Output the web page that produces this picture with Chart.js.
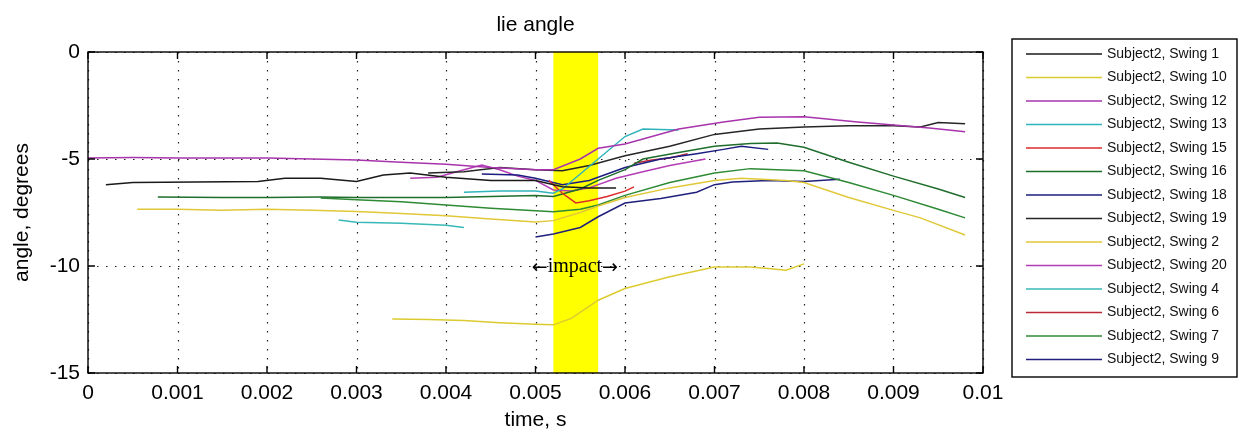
<!DOCTYPE html>
<html lang="en">
<head>
    <meta charset="UTF-8">
    <title>lie angle</title>
    <script src="https://cdn.jsdelivr.net/npm/chart.js"></script>
    <style>
        html, body { margin: 0; padding: 0; background: #fff; }
        #wrap { position: relative; width: 1239px; height: 434px; }
    </style>
</head>
<body>
<div id="wrap"><canvas id="chart"></canvas></div>
<script>
// [time (s), angle (degrees)]
const swing1  = [[0.0002,-6.2],[0.0005,-6.1],[0.0019,-6.05],[0.0022,-5.9],[0.0026,-5.9],[0.003,-6.05],[0.0033,-5.75],[0.0036,-5.65],[0.004,-5.85],[0.0045,-6.0],[0.005,-6.0],[0.0053,-6.3],[0.0056,-6.35],[0.0059,-6.35]];
const swing10 = [[0.0034,-12.48],[0.0038,-12.5],[0.0042,-12.55],[0.0046,-12.65],[0.005,-12.72],[0.0052,-12.75],[0.0054,-12.45],[0.0057,-11.6],[0.006,-11.05],[0.0065,-10.5],[0.007,-10.05],[0.0074,-10.05],[0.0076,-10.12],[0.0078,-10.2],[0.008,-9.9]];
const swing12 = [[0,-4.95],[0.0005,-4.93],[0.001,-4.95],[0.002,-4.95],[0.0025,-5.0],[0.003,-5.05],[0.0035,-5.15],[0.004,-5.25],[0.0045,-5.4],[0.005,-5.5],[0.0052,-5.5],[0.0055,-5.0],[0.0057,-4.5],[0.006,-4.3],[0.0066,-3.6],[0.0071,-3.27],[0.0075,-3.05],[0.008,-3.03],[0.0086,-3.27],[0.009,-3.41],[0.0094,-3.55],[0.0098,-3.73]];
const swing13 = [[0.0042,-6.55],[0.0046,-6.5],[0.005,-6.5],[0.0052,-6.6],[0.0053,-6.4],[0.0055,-5.7],[0.0057,-5.0],[0.006,-3.95],[0.0062,-3.6],[0.0066,-3.65]];
const swing15 = [[0.00515,-6.0],[0.0053,-6.6],[0.00545,-7.05],[0.0056,-6.95],[0.0058,-6.75],[0.006,-6.5],[0.0061,-6.3]];
const swing16 = [[0.00078,-6.78],[0.0015,-6.8],[0.002,-6.8],[0.0026,-6.78],[0.003,-6.8],[0.0035,-6.8],[0.004,-6.8],[0.0045,-6.75],[0.005,-6.7],[0.0052,-6.75],[0.0055,-6.4],[0.0057,-6.0],[0.006,-5.5],[0.0062,-5.0],[0.0066,-4.7],[0.007,-4.4],[0.0074,-4.28],[0.0077,-4.25],[0.008,-4.45],[0.0085,-5.15],[0.009,-5.8],[0.0095,-6.4],[0.0098,-6.8]];
const swing18 = [[0.0044,-5.7],[0.0048,-5.75],[0.005,-5.9],[0.0053,-6.2],[0.0056,-6.0],[0.006,-5.4],[0.0064,-5.0],[0.0068,-4.75],[0.0071,-4.55],[0.0073,-4.4],[0.0076,-4.55]];
const swing19 = [[0.0038,-5.65],[0.0042,-5.6],[0.0046,-5.4],[0.005,-5.5],[0.0053,-5.55],[0.0056,-5.3],[0.006,-4.85],[0.0065,-4.4],[0.007,-3.85],[0.0075,-3.6],[0.008,-3.5],[0.0085,-3.45],[0.009,-3.45],[0.0093,-3.5],[0.0095,-3.3],[0.0098,-3.35]];
const swing2  = [[0.00055,-7.35],[0.001,-7.35],[0.0015,-7.4],[0.002,-7.35],[0.0025,-7.4],[0.003,-7.45],[0.0035,-7.55],[0.004,-7.65],[0.0045,-7.8],[0.005,-7.94],[0.0052,-7.88],[0.0055,-7.5],[0.0057,-7.2],[0.006,-6.8],[0.0065,-6.35],[0.007,-6.0],[0.0073,-5.9],[0.0078,-6.0],[0.008,-6.1],[0.0085,-6.8],[0.009,-7.4],[0.0093,-7.75],[0.0098,-8.55]];
const swing20 = [[0.0036,-5.9],[0.0039,-5.85],[0.0042,-5.5],[0.0044,-5.28],[0.0046,-5.5],[0.0048,-5.8],[0.005,-6.0],[0.0052,-6.45],[0.0054,-6.5],[0.0056,-6.35],[0.0059,-5.9],[0.0062,-5.6],[0.0065,-5.3],[0.0069,-5.0]];
const swing4  = [[0.0028,-7.85],[0.003,-7.95],[0.0035,-8.0],[0.004,-8.1],[0.0042,-8.2]];
const swing6  = [[0.0061,-5.2],[0.0063,-5.05],[0.0065,-4.95],[0.0067,-4.75]];
const swing7  = [[0.0026,-6.82],[0.003,-6.9],[0.0035,-7.0],[0.004,-7.15],[0.0045,-7.3],[0.005,-7.42],[0.0052,-7.47],[0.0055,-7.35],[0.0057,-7.15],[0.006,-6.7],[0.0065,-6.1],[0.007,-5.65],[0.0074,-5.45],[0.008,-5.55],[0.0085,-6.1],[0.009,-6.7],[0.0095,-7.35],[0.0098,-7.75]];
const swing9  = [[0.005,-8.64],[0.0052,-8.5],[0.0055,-8.2],[0.0057,-7.7],[0.006,-7.06],[0.0064,-6.85],[0.0068,-6.55],[0.007,-6.2],[0.0072,-6.07],[0.0076,-6.0],[0.008,-6.05],[0.0084,-5.95]];

const seriesData   = [swing1, swing10, swing12, swing13, swing15, swing16, swing18, swing19, swing2, swing20, swing4, swing6, swing7, swing9];
const seriesLabels = ['Subject2, Swing 1', 'Subject2, Swing 10', 'Subject2, Swing 12', 'Subject2, Swing 13',
                      'Subject2, Swing 15', 'Subject2, Swing 16', 'Subject2, Swing 18', 'Subject2, Swing 19',
                      'Subject2, Swing 2', 'Subject2, Swing 20', 'Subject2, Swing 4', 'Subject2, Swing 6',
                      'Subject2, Swing 7', 'Subject2, Swing 9'];
const seriesColors = ['#1a1a1a', '#dccb30', '#a834ac', '#30b4bc', '#dc2c2c', '#1f6e2c', '#1c1c80', '#262626',
                      '#e0c838', '#b43cb4', '#38b8b8', '#bc2838', '#2e8a34', '#20207c'];

const xTicks = [0, 0.001, 0.002, 0.003, 0.004, 0.005, 0.006, 0.007, 0.008, 0.009, 0.01];
const yTicks = [0, -5, -10, -15];
const impactBand = [0.0052, 0.0057];
const impactText = 'impact';
const impactAt = [0.00544, -10.05];
const chartTitle = 'lie angle';

const FONT = '"Liberation Sans", Arial, sans-serif';

// dotted grid and the yellow impact band, under the lines
const backdrop = {
    id: 'backdrop',
    beforeDatasetsDraw(chart) {
        const { ctx, chartArea: a, scales: { x, y } } = chart;
        ctx.save();
        ctx.strokeStyle = '#222';
        ctx.lineWidth = 1.2;
        ctx.setLineDash([1.5, 7.5]);
        ctx.beginPath();
        xTicks.forEach(t => {
            const px = Math.round(x.getPixelForValue(t)) + 0.5;
            ctx.moveTo(px, a.top); ctx.lineTo(px, a.bottom);
        });
        yTicks.forEach(v => {
            const py = Math.round(y.getPixelForValue(v)) + 0.5;
            ctx.moveTo(a.left, py); ctx.lineTo(a.right, py);
        });
        ctx.stroke();
        ctx.setLineDash([]);
        const x1 = x.getPixelForValue(impactBand[0]);
        const x2 = x.getPixelForValue(impactBand[1]);
        ctx.fillStyle = '#ffff00';
        ctx.fillRect(x1, a.top, x2 - x1, a.bottom - a.top);
        ctx.restore();
    }
};

// axes box with inward ticks, title, impact label, legend
const overlay = {
    id: 'overlay',
    afterDatasetsDraw(chart) {
        const { ctx, chartArea: a, scales: { x, y } } = chart;
        ctx.save();
        ctx.strokeStyle = '#000';
        ctx.lineWidth = 1.4;
        ctx.strokeRect(a.left, a.top, a.right - a.left, a.bottom - a.top);
        ctx.beginPath();
        xTicks.forEach(t => {
            const px = x.getPixelForValue(t);
            ctx.moveTo(px, a.bottom); ctx.lineTo(px, a.bottom - 7);
            ctx.moveTo(px, a.top); ctx.lineTo(px, a.top + 7);
        });
        yTicks.forEach(v => {
            const py = y.getPixelForValue(v);
            ctx.moveTo(a.left, py); ctx.lineTo(a.left + 7, py);
            ctx.moveTo(a.right, py); ctx.lineTo(a.right - 7, py);
        });
        ctx.stroke();

        ctx.fillStyle = '#000';
        ctx.textBaseline = 'middle';
        ctx.textAlign = 'center';
        ctx.font = '21px ' + FONT;
        ctx.fillText(chartTitle, (a.left + a.right) / 2, 25);

        // ←impact→ : arrows from DejaVu, word in a serif face
        const cx = x.getPixelForValue(impactAt[0]);
        const cy = y.getPixelForValue(impactAt[1]);
        ctx.font = '20px "Liberation Serif", serif';
        const wWord = ctx.measureText(impactText).width;
        ctx.font = '19px "DejaVu Sans", sans-serif';
        const wArrow = ctx.measureText('\u2190').width;
        let px = cx - (wWord + 2 * wArrow) / 2;
        ctx.textAlign = 'left';
        ctx.fillText('\u2190', px, cy + 1);
        ctx.font = '20px "Liberation Serif", serif';
        ctx.fillText(impactText, px + wArrow, cy);
        ctx.font = '19px "DejaVu Sans", sans-serif';
        ctx.fillText('\u2192', px + wArrow + wWord, cy + 1);

        // legend
        const lx = a.right + 29, ly = 39, lw = 225, lh = 338;
        ctx.fillStyle = '#fff';
        ctx.fillRect(lx, ly, lw, lh);
        ctx.strokeStyle = '#000';
        ctx.lineWidth = 1.4;
        ctx.strokeRect(lx, ly, lw, lh);
        ctx.font = '14px ' + FONT;
        chart.data.datasets.forEach((ds, i) => {
            const ry = ly + 15 + i * 23.5;
            ctx.strokeStyle = ds.borderColor;
            ctx.lineWidth = 1.5;
            ctx.beginPath();
            ctx.moveTo(lx + 14, ry); ctx.lineTo(lx + 90, ry);
            ctx.stroke();
            ctx.fillStyle = '#111';
            ctx.fillText(ds.label, lx + 95, ry);
        });
        ctx.restore();
    }
};

new Chart(document.getElementById('chart'), {
    type: 'line',
    data: {
        datasets: seriesData.map((pts, i) => ({
            label: seriesLabels[i],
            data: pts.map(p => ({ x: p[0], y: p[1] })),
            borderColor: seriesColors[i],
            backgroundColor: seriesColors[i],
            borderWidth: 1.5,
            pointRadius: 0,
            fill: false,
            tension: 0
        }))
    },
    options: {
        responsive: true,
        maintainAspectRatio: false,
        animation: false,
        layout: { padding: { left: 0, right: 256, top: 52, bottom: 0 } },
        plugins: {
            legend: { display: false },
            tooltip: { enabled: false },
            title: { display: false }
        },
        scales: {
            x: {
                type: 'linear',
                min: 0,
                max: 0.01,
                afterBuildTicks: s => { s.ticks = xTicks.map(v => ({ value: v })); },
                afterFit: s => { s.height = 61; },
                grid: { display: false, drawTicks: false },
                border: { display: false },
                ticks: {
                    color: '#000',
                    padding: 8,
                    maxRotation: 0,
                    autoSkip: false,
                    font: { family: FONT, size: 21 },
                    callback: v => String(v)
                },
                title: {
                    display: true,
                    text: 'time, s',
                    color: '#000',
                    font: { family: FONT, size: 21 },
                    padding: { top: 0, bottom: 1 }
                }
            },
            y: {
                min: -15,
                max: 0,
                afterBuildTicks: s => { s.ticks = yTicks.map(v => ({ value: v })); },
                afterFit: s => { s.width = 88; },
                grid: { display: false, drawTicks: false },
                border: { display: false },
                ticks: {
                    color: '#000',
                    padding: 8,
                    font: { family: FONT, size: 21 },
                    callback: v => String(v)
                },
                title: {
                    display: true,
                    text: 'angle, degrees',
                    color: '#000',
                    font: { family: FONT, size: 21 },
                    padding: { top: 10, bottom: 0 }
                }
            }
        }
    },
    plugins: [backdrop, overlay]
});
</script>
</body>
</html>
